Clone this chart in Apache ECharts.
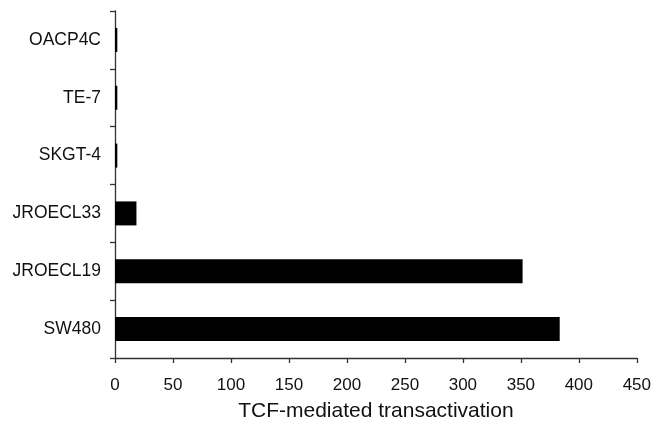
<!DOCTYPE html>
<html><head><meta charset="utf-8">
<script src="https://cdn.jsdelivr.net/npm/echarts@6/dist/echarts.min.js"></script>
<style>html,body{margin:0;padding:0;background:#fff}#c{width:654px;height:427px}</style>
</head><body><div id="c"></div>
<script>
const categories = ["SW480", "JROECL19", "JROECL33", "SKGT-4", "TE-7", "OACP4C"];
const values = [383.5, 351.5, 18.5, 2, 2, 2];
const xTicks = [0, 50, 100, 150, 200, 250, 300, 350, 400, 450];
const xTitle = "TCF-mediated transactivation";

const chart = echarts.init(document.getElementById('c'));
chart.setOption({
  animation: false,
  grid: {left: 115, right: 17, top: 11, bottom: 66, containLabel: false},
  xAxis: {
    type: 'value', min: xTicks[0], max: xTicks[xTicks.length-1], interval: 50,
    name: xTitle, nameLocation: 'middle', nameGap: 43,
    nameTextStyle: {fontFamily: 'Liberation Sans', fontSize: 21, color: '#111'},
    axisLine: {show: true, lineStyle: {color: '#333', width: 1.3}},
    axisTick: {show: true, length: 5, lineStyle: {color: '#333', width: 1.3}},
    axisLabel: {fontFamily: 'Liberation Sans', fontSize: 17, color: '#111', margin: 19},
    splitLine: {show: false}
  },
  yAxis: {
    type: 'category', data: categories,
    axisLine: {show: true, lineStyle: {color: '#333', width: 1.3}},
    axisTick: {show: true, length: 5, lineStyle: {color: '#333', width: 1.3}},
    axisLabel: {fontFamily: 'Liberation Sans', fontSize: 17.5, color: '#111', margin: 14}
  },
  series: [{
    type: 'bar', data: values, barWidth: 24,
    itemStyle: {color: '#000'}
  }]
});
</script></body></html>
